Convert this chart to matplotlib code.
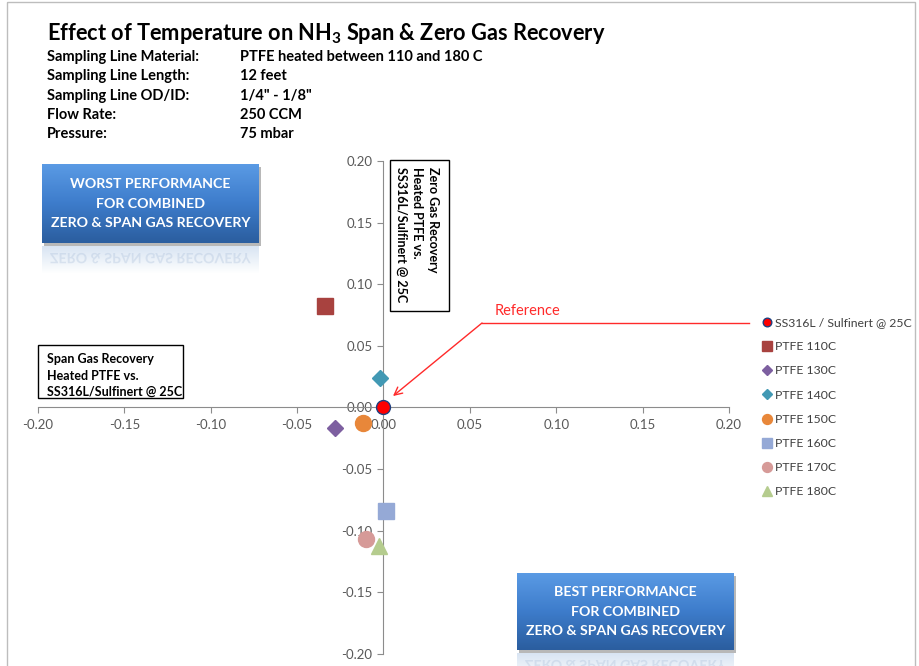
import numpy as np
import matplotlib
matplotlib.use('Agg')
import matplotlib.pyplot as plt
from matplotlib.patches import Rectangle, PathPatch
from matplotlib.textpath import TextPath
from matplotlib.font_manager import FontProperties
from matplotlib.colors import LinearSegmentedColormap, to_rgb
from matplotlib.transforms import Affine2D

plt.rcParams['font.family'] = ['Lato', 'DejaVu Sans']
plt.rcParams['axes.unicode_minus'] = False
plt.rcParams['mathtext.fontset'] = 'custom'
plt.rcParams['mathtext.rm'] = 'Lato'
plt.rcParams['mathtext.bf'] = 'Lato:bold'

# data
series_names = ['SS316L / Sulfinert @ 25C', 'PTFE 110C', 'PTFE 130C', 'PTFE 140C',
                'PTFE 150C', 'PTFE 160C', 'PTFE 170C', 'PTFE 180C']
span_recovery = [0.0, -0.034, -0.028, -0.002, -0.012, 0.0013, -0.0104, -0.0027]
zero_recovery = [0.0, 0.0825, -0.0165, 0.024, -0.0125, -0.084, -0.107, -0.112]
axis_ticks = [-0.20, -0.15, -0.10, -0.05, 0.00, 0.05, 0.10, 0.15, 0.20]

info_labels = ['Sampling Line Material:', 'Sampling Line Length:', 'Sampling Line OD/ID:',
               'Flow Rate:', 'Pressure:']
info_values = ['PTFE heated between 110 and 180 C', '12 feet', '1/4" - 1/8"',
               '250 CCM', '75 mbar']

# marker styling per series
marker_styles = ['o', 's', 'D', 'D', 'o', 's', 'o', '^']
marker_colors = ['#FF0000', '#A8423F', '#7D5FA0', '#4299B4', '#E8873A',
                 '#95A9D6', '#D69A98', '#B5CC8E']
marker_edges = ['#1F3F7F', '#A8423F', '#7D5FA0', '#4299B4', '#E8873A',
                '#95A9D6', '#D69A98', '#B5CC8E']
marker_sizes = [10, 11, 8, 8, 11.5, 11, 11.5, 12]

W, H = 920, 666
fig = plt.figure(figsize=(W / 100, H / 100), dpi=100)
fig.patch.set_facecolor('white')

# main scatter axes, spines crossing at zero
ax = fig.add_axes([38 / W, 1 - 654 / H, (729 - 38) / W, (654 - 161) / H])
ax.set_xlim(-0.2, 0.2)
ax.set_ylim(-0.2, 0.2)
ax.patch.set_alpha(0)
for side in ['top', 'right']:
    ax.spines[side].set_visible(False)
for side in ['left', 'bottom']:
    ax.spines[side].set_position(('data', 0))
    ax.spines[side].set_color('#8C8C8C')
    ax.spines[side].set_linewidth(0.8)
ax.set_xticks(axis_ticks)
ax.set_yticks(axis_ticks)
ax.set_xticklabels([f'{t:.2f}' for t in axis_ticks])
ax.set_yticklabels([f'{t:.2f}' for t in axis_ticks])
ax.tick_params(direction='out', length=4, width=0.8, color='#8C8C8C',
               labelsize=9.5, labelcolor='#595959', pad=4)

for name, xv, yv, m, c, ec, ms in zip(series_names, span_recovery, zero_recovery,
                                      marker_styles, marker_colors, marker_edges,
                                      marker_sizes):
    ax.plot([xv], [yv], linestyle='none', marker=m, markersize=ms, color=c,
            markeredgecolor=ec, markeredgewidth=1.0, label=name, zorder=4, clip_on=False)

# overlay in pixel coordinates for annotations and boxes
ov = fig.add_axes([0, 0, 1, 1], zorder=3)
ov.set_xlim(0, W)
ov.set_ylim(H, 0)
ov.axis('off')

leg = ax.legend(loc='upper left', bbox_to_anchor=(762, 317), bbox_transform=ov.transData,
                frameon=False, fontsize=8.8, labelspacing=1.08, handlelength=0.75,
                handletextpad=0.3, borderpad=0, borderaxespad=0, markerscale=0.62)
for t in leg.get_texts():
    t.set_color('#404040')

# chart border
ov.add_patch(Rectangle((7, 2), 908, 700, fill=False, edgecolor='#BDBDBD', lw=1.0))

# title and test conditions
ov.text(47, 33, r'Effect of Temperature on NH$_\mathbf{3}$ Span & Zero Gas Recovery',
        fontsize=15.7, fontweight='bold', color='black', ha='left', va='center')
for i, (lab, val) in enumerate(zip(info_labels, info_values)):
    yy = 57 + i * 19.3
    ov.text(47, yy, lab, fontsize=10.5, fontweight='bold', ha='left', va='center')
    ov.text(240, yy, val, fontsize=10.5, fontweight='bold', ha='left', va='center')

blue_cmap = LinearSegmentedColormap.from_list('bb', ['#5A9AE4', '#3D7CCB', '#2B5E9F'])


def blue_box(x0, y0, w, h, lines):
    ov.add_patch(Rectangle((x0 + 2, y0 + 3), w, h, color='black', alpha=0.28, lw=0, zorder=1))
    grad = np.linspace(0, 1, 64).reshape(-1, 1)
    ov.imshow(grad, extent=(x0, x0 + w, y0 + h, y0), cmap=blue_cmap, aspect='auto', zorder=2)
    # faded reflection under the box
    rh = 28
    refl = np.zeros((32, 1, 4))
    refl[..., :3] = to_rgb('#7FA6D6')
    refl[:, 0, 3] = np.linspace(0.3, 0.0, 32)
    ov.imshow(refl, extent=(x0, x0 + w, y0 + h + 3 + rh, y0 + h + 3), aspect='auto', zorder=1)
    fsz = 10.2 * 100 / 72
    fp = FontProperties(family='Lato', weight='bold')
    tp = TextPath((0, 0), lines[-1], size=fsz, prop=fp)
    ext = tp.get_extents()
    cx = x0 + w / 2
    tr = Affine2D().translate(cx - ext.width / 2 - ext.x0, y0 + h + 10)
    ov.add_patch(PathPatch(tr.transform_path(tp), facecolor='#B4C6DE', edgecolor='none',
                           alpha=0.4, zorder=2))
    for i, s in enumerate(lines):
        ov.text(cx, y0 + h / 2 + (i - 1) * 19.3, s, color='white', fontsize=10.2,
                fontweight='bold', ha='center', va='center', zorder=3)


blue_box(42, 164, 217, 79, ['WORST PERFORMANCE', 'FOR COMBINED', 'ZERO & SPAN GAS RECOVERY'])
blue_box(517, 573, 217, 77, ['BEST PERFORMANCE', 'FOR COMBINED', 'ZERO & SPAN GAS RECOVERY'])
ov.set_xlim(0, W)
ov.set_ylim(H, 0)

# axis caption boxes
ov.add_patch(Rectangle((390, 160), 59, 151, facecolor='white', edgecolor='black', lw=1.0, zorder=2))
ov.text(417.5, 167, 'Zero Gas Recovery\nHeated PTFE vs.\nSS316L/Sulfinert @ 25C',
        rotation=-90, fontsize=9, fontweight='bold', ha='center', va='top',
        multialignment='left', linespacing=1.4, zorder=3)
ov.add_patch(Rectangle((38, 345), 145, 53, facecolor='white', edgecolor='black', lw=1.0, zorder=2))
ov.text(47, 375.5, 'Span Gas Recovery\nHeated PTFE vs.\nSS316L/Sulfinert @ 25C',
        fontsize=9, fontweight='bold', ha='left', va='center', linespacing=1.45, zorder=3)

# reference callout
ref_red = '#FF2A2A'
ov.plot([482, 749], [323, 323], color=ref_red, lw=1.0)
ax.annotate('', xy=(0.0055, 0.0093), xycoords='data', xytext=(482, 323),
            textcoords=ov.transData, annotation_clip=False,
            arrowprops=dict(arrowstyle='->', color=ref_red, lw=1.0, shrinkA=0, shrinkB=0,
                            mutation_scale=14))
ov.text(528, 311, 'Reference', color=ref_red, fontsize=10.5, ha='center', va='center')

fig.savefig('out.png', dpi=100, facecolor='white')
